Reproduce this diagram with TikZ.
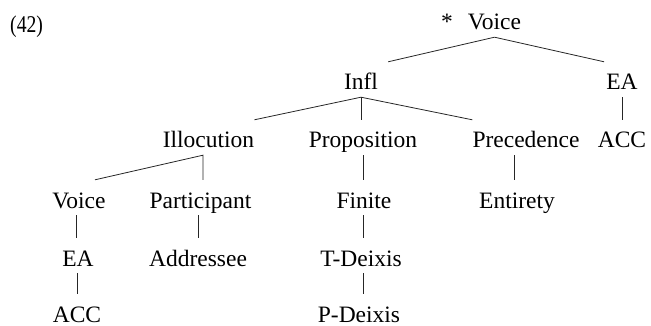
\documentclass[tikz,border=0pt]{standalone}
\usepackage{fontspec}
\setmainfont{Liberation Serif}
\usetikzlibrary{calc}
\begin{document}
\begin{tikzpicture}[x=1pt,y=-1pt,
  lab/.style={font=\fontsize{23.5}{28}\selectfont, inner xsep=0pt, inner ysep=0pt,
              text height=16pt, text depth=7pt, anchor=base},
  edge/.style={line width=0.8pt, black!85}]
\useasboundingbox (0,0) rectangle (651,326);
% example number
\node[font=\fontsize{24}{28}\selectfont, inner sep=0pt, anchor=base west] (num) at (10,33) {\scalebox{0.82}[1]{(42)}};
% nodes
\node[lab] (star) at (447,30) {*};
\node[lab] (topv) at (494.5,30) {Voice};
\node[lab] (infl) at (361,90) {Infl};
\node[lab] (eaR) at (622,90) {EA};
\node[lab] (illoc) at (208.5,148) {Illocution};
\node[lab] (prop) at (363,148) {Proposition};
\node[lab] (prec) at (526,148) {Precedence};
\node[lab] (accR) at (622,148) {ACC};
\node[lab] (voiceL) at (79,208) {Voice};
\node[lab] (part) at (200.5,208) {Participant};
\node[lab] (fin) at (364,208) {Finite};
\node[lab] (ent) at (517,208) {Entirety};
\node[lab] (eaL) at (78,266) {EA};
\node[lab] (addr) at (198,266) {Addressee};
\node[lab] (tdx) at (361,266) {T-Deixis};
\node[lab] (accL) at (77,322) {ACC};
\node[lab] (pdx) at (359,322) {P-Deixis};
% connectors
\draw[edge] ($(infl.north east)+(10,-12)$) -- (topv.south) -- ($(eaR.north west)+(-2,-12)$);
\draw[edge] ($(illoc.north east)+(0,-12)$) -- (infl.south) -- ($(prec.north west)+(0,-12)$);
\draw[edge] (infl.south) -- ($(infl.south |- prop.north)+(0,-12)$);
\draw[edge] (eaR.south) -- ($(eaR.south |- accR.north)+(0,-12)$);
\draw[edge] ($(voiceL.north)+(16,-12)$) -- ($(illoc.south)+(-5.5,0)$) -- ($(illoc.south |- part.north)+(-5.5,-12)$);
\draw[edge] (prop.south) -- ($(prop.south |- fin.north)+(0,-12)$);
\draw[edge] ($(ent.north |- prec.south)+(-3,0)$) -- ($(ent.north)+(-3,-12)$);
\draw[edge] ($(eaL.north |- voiceL.south)+(-2,0)$) -- ($(eaL.north)+(-2,-12)$);
\draw[edge] ($(accL.north |- eaL.south)$) -- ($(accL.north)+(0,-12)$);
\draw[edge] (addr.north |- part.south) -- ($(addr.north)+(0,-12)$);
\draw[edge] ($(fin.south)+(-1,0)$) -- ($(fin.south |- tdx.north)+(-1,-12)$);
\draw[edge] ($(tdx.south)+(2,0)$) -- ($(tdx.south |- pdx.north)+(2,-12)$);
\end{tikzpicture}
\end{document}
